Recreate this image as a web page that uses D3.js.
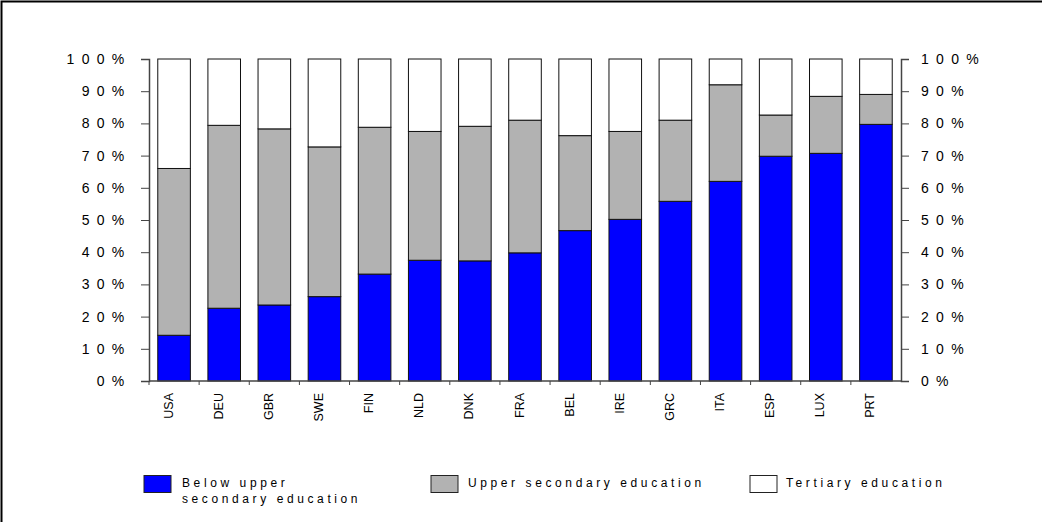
<!DOCTYPE html>
<html>
<head>
<meta charset="utf-8">
<script src="https://d3js.org/d3.v7.min.js"></script>
<style>
  body { margin: 0; background: #fff; }
  text { font-family: "Liberation Sans", Arial, sans-serif; fill: #000; }
</style>
</head>
<body>
<div id="chart"></div>
<script>
// countries in the order shown
var countries = ["USA", "DEU", "GBR", "SWE", "FIN", "NLD", "DNK", "FRA", "BEL", "IRE", "GRC", "ITA", "ESP", "LUX", "PRT"]

// shares in percent (each country sums to 100)
var belowUpper = [14.2, 22.6, 23.6, 26.2, 33.2, 37.5, 37.3, 39.8, 46.7, 50.2, 55.8, 62.0, 69.8, 70.7, 79.7]
var upperSecondary = [51.8, 56.8, 54.7, 46.5, 45.6, 40.0, 41.8, 41.2, 29.5, 27.3, 25.2, 30.0, 12.8, 17.7, 9.3]
var tertiary = [34.0, 20.6, 21.7, 27.3, 21.2, 22.5, 20.9, 19.0, 23.8, 22.5, 19.0, 8.0, 17.4, 11.6, 11.0]

var seriesNames = ["Below upper secondary education", "Upper secondary education", "Tertiary education"]
var seriesColors = ["#0000ff", "#b2b2b2", "#ffffff"]
var tickValues = [0, 10, 20, 30, 40, 50, 60, 70, 80, 90, 100]

var width = 1042
var height = 522
var margin = {top: 59, right: 141, bottom: 141, left: 149}

var svg = d3.select("#chart")
    .append("svg")
    .attr("width", width)
    .attr("height", height)

// frame (only left and top edges are inside the picture)
svg.append("rect")
    .attr("x", 1.5).attr("y", 1.5)
    .attr("width", 1200).attr("height", 800)
    .attr("fill", "none")
    .attr("stroke", "#000")
    .attr("stroke-width", 2)

var x = d3.scaleBand()
    .domain(countries)
    .range([margin.left, width - margin.right])

var y = d3.scaleLinear()
    .domain([0, 100])
    .range([height - margin.bottom, margin.top])

// table for the stack
var table = countries.map(function (c, i) {
    return {country: c, below: belowUpper[i], upper: upperSecondary[i], tertiary: tertiary[i]}
})
var stack = d3.stack().keys(["below", "upper", "tertiary"])
var layers = stack(table)

var barW = x.bandwidth() * 0.65

var g = svg.append("g")
layers.forEach(function (layer, li) {
    g.selectAll(".bar" + li)
        .data(layer)
        .enter()
        .append("rect")
        .attr("x", function (d) { return x(d.data.country) + (x.bandwidth() - barW) / 2 })
        .attr("y", function (d) { return y(d[1]) })
        .attr("width", barW)
        .attr("height", function (d) { return y(d[0]) - y(d[1]) })
        .attr("fill", seriesColors[li])
        .attr("stroke", "#111")
        .attr("stroke-width", 1)
})

function pctLabel(v) {
    return String(v).split("").join(" ") + " %"
}

// left axis
var left = svg.append("g")
    .attr("transform", "translate(" + margin.left + ",0)")
    .call(d3.axisLeft(y).tickValues(tickValues).tickSize(8).tickPadding(15).tickFormat(pctLabel))
// right axis
var right = svg.append("g")
    .attr("transform", "translate(" + (width - margin.right) + ",0)")
    .call(d3.axisRight(y).tickValues(tickValues).tickSize(8).tickPadding(12).tickFormat(pctLabel))

;[left, right].forEach(function (a) {
    a.select(".domain").attr("stroke", "#444").attr("stroke-width", 1.5)
    a.selectAll(".tick line").attr("stroke", "#444")
    a.selectAll("text")
        .style("font-size", "14px")
        .style("letter-spacing", "1.7px")
        .attr("fill", "#000")
})

// bottom axis line with ticks at band boundaries
var bottom = svg.append("g")
bottom.append("line")
    .attr("x1", margin.left).attr("x2", width - margin.right)
    .attr("y1", y(0)).attr("y2", y(0))
    .attr("stroke", "#444").attr("stroke-width", 1.5)
bottom.selectAll(".btick")
    .data(countries)
    .enter()
    .append("line")
    .attr("x1", function (d) { return x(d) }).attr("x2", function (d) { return x(d) })
    .attr("y1", y(0)).attr("y2", y(0) + 4)
    .attr("stroke", "#444")

bottom.selectAll(".xlab")
    .data(countries)
    .enter()
    .append("text")
    .attr("transform", function (d) {
        return "translate(" + (x(d) + x.bandwidth() / 2 - 1.5) + "," + (y(0) + 12) + ") rotate(-90)"
    })
    .attr("text-anchor", "end")
    .style("font-size", "12.5px")
    .text(function (d) { return d })

// legend
var legendItems = [
    {box: 144, text: 182, lines: ["Below upper", "secondary education"]},
    {box: 431, text: 468, lines: ["Upper secondary education"]},
    {box: 750, text: 786, lines: ["Tertiary education"]}
]
var legend = svg.append("g")
legendItems.forEach(function (item, i) {
    legend.append("rect")
        .attr("x", item.box).attr("y", 475.5)
        .attr("width", 27).attr("height", 17)
        .attr("fill", seriesColors[i])
        .attr("stroke", "#222")
    var t = legend.append("text")
        .attr("x", item.text).attr("y", 487)
        .style("font-size", "12px")
        .style("letter-spacing", "3.6px")
    item.lines.forEach(function (ln, j) {
        t.append("tspan")
            .attr("x", item.text)
            .attr("dy", j === 0 ? 0 : 16)
            .text(ln)
    })
})
</script>
</body>
</html>
